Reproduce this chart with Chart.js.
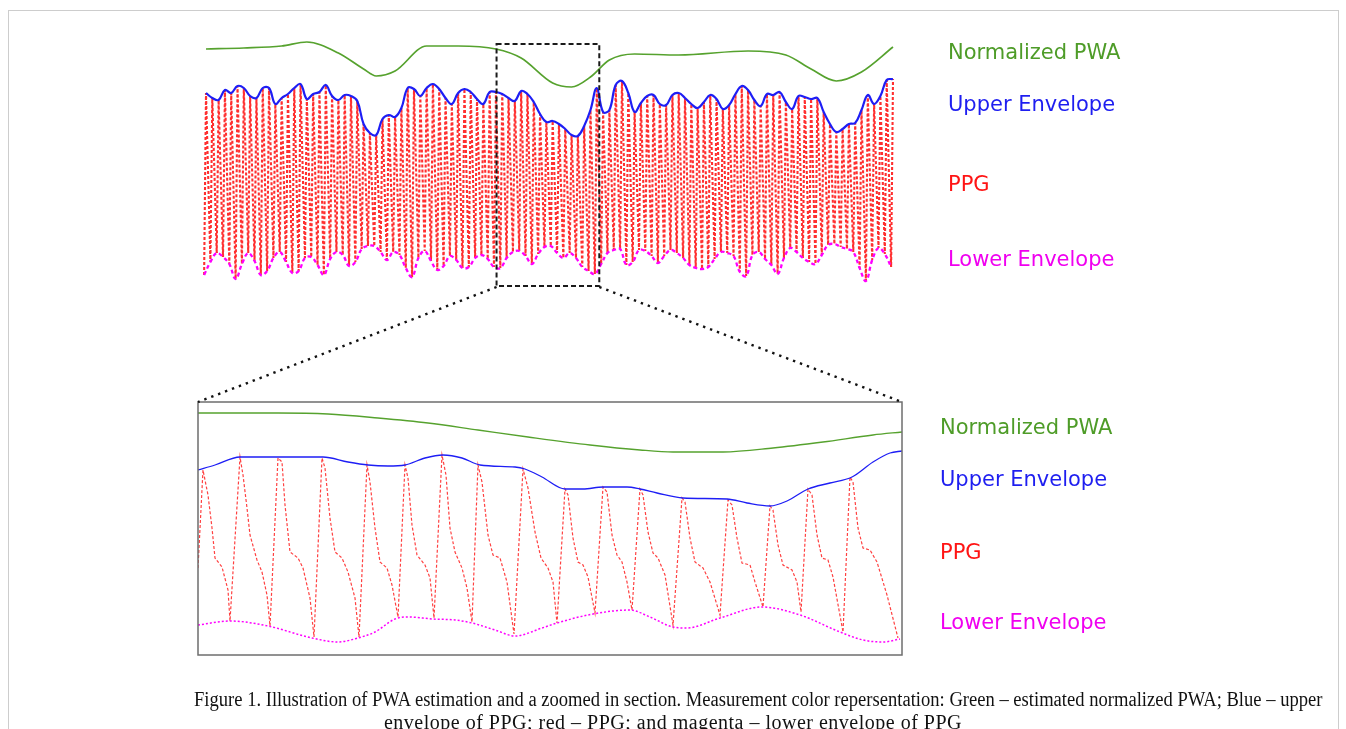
<!DOCTYPE html>
<html>
<head>
<meta charset="utf-8">
<title>PWA estimation</title>
<script src="https://cdn.jsdelivr.net/npm/chart.js@4.4.1/dist/chart.umd.min.js"></script>
<style>
  html, body { margin: 0; padding: 0; background: #fff; }
  body { width: 1346px; height: 729px; position: relative; overflow: hidden; }
  #frame { position: absolute; left: 8px; top: 10px; width: 1329px; height: 760px; border: 1px solid #cdcdcd; }
  canvas { position: absolute; }
  #topChart { left: 196px; top: 30px; }
  #zoomChart { left: 196px; top: 400px; }
  #overlay { left: 0; top: 0; pointer-events: none; }
  .lbl { position: absolute; font-family: "DejaVu Sans", Verdana, sans-serif; font-size: 21px; line-height: 24px; white-space: nowrap; }
  .pwa { color: rgb(78, 156, 40); }
  .up { color: rgb(30, 30, 240); }
  .ppg { color: rgb(255, 20, 20); }
  .low { color: rgb(240, 0, 240); }
  .cap { position: absolute; white-space: nowrap; font-family: "Liberation Serif", "Times New Roman", serif;
         font-size: 20px; line-height: 22px; color: #111; }
  #cap1 { left: 194px; top: 688px; transform: scaleX(0.929); transform-origin: 0 0; }
  #cap2 { left: 0; width: 1346px; text-align: center; top: 711px; letter-spacing: 0.5px; }
</style>
</head>
<body>
<div id="frame"></div>
<canvas id="topChart" width="707" height="270"></canvas>
<canvas id="zoomChart" width="708" height="257"></canvas>
<canvas id="overlay" width="1346" height="729"></canvas>

<div class="lbl pwa" style="left:948px; top:40px">Normalized PWA</div>
<div class="lbl up" style="left:948px; top:92px">Upper Envelope</div>
<div class="lbl ppg" style="left:948px; top:172px">PPG</div>
<div class="lbl low" style="left:948px; top:247px">Lower Envelope</div>

<div class="lbl pwa" style="left:940px; top:415px">Normalized PWA</div>
<div class="lbl up" style="left:940px; top:467px">Upper Envelope</div>
<div class="lbl ppg" style="left:940px; top:540px">PPG</div>
<div class="lbl low" style="left:940px; top:610px">Lower Envelope</div>

<div class="cap" id="cap1">Figure 1. Illustration of PWA estimation and a zoomed in section. Measurement color repersentation: Green – estimated normalized PWA; Blue – upper</div>
<div class="cap" id="cap2">envelope of PPG; red – PPG; and magenta – lower envelope of PPG</div>

<script>
// Full recording, one value per heart beat (beat index 0..109)
// systolic peaks of the PPG -> upper envelope
const beatUpper = [
  207, 202, 200, 210, 207, 214, 212, 204, 202, 212,
  212, 196, 202, 206, 212, 216, 201, 206, 208, 215,
  204, 200, 205, 204, 199, 176, 167, 165, 181, 185,
  183, 192, 212, 211, 204, 212, 216, 211, 202, 196,
  207, 211, 208, 201, 196, 208, 208, 206, 202, 199,
  209, 206, 198, 186, 178, 179, 176, 171, 165, 164,
  174, 190, 212, 188, 190, 215, 219, 207, 188, 197,
  204, 205, 196, 195, 205, 207, 202, 196, 192, 198,
  205, 201, 191, 195, 206, 214, 210, 200, 194, 206,
  205, 208, 198, 191, 204, 203, 201, 202, 188, 176,
  168, 171, 176, 177, 190, 205, 196, 204, 220, 221
];
// beat onsets (troughs) of the PPG -> lower envelope
const beatLower = [
  25, 38, 47, 43, 36, 21, 36, 47, 39, 25,
  29, 42, 48, 38, 27, 29, 42, 43, 35, 25,
  41, 48, 45, 34, 38, 51, 54, 54, 48, 40,
  48, 45, 32, 23, 42, 49, 39, 30, 34, 44,
  40, 32, 33, 42, 45, 41, 33, 32, 42, 48,
  49, 44, 36, 46, 53, 54, 47, 42, 47, 42,
  33, 29, 26, 36, 47, 50, 51, 35, 38, 50,
  49, 44, 37, 44, 50, 47, 42, 35, 32, 31,
  33, 41, 48, 47, 44, 28, 24, 45, 48, 41,
  35, 26, 42, 52, 48, 42, 38, 36, 45, 55,
  56, 53, 51, 48, 32, 19, 40, 52, 46, 33
];
// normalized PWA, sampled at a few beats
const pwaBeat  = [0, 6, 12, 16, 21, 25, 27, 30, 35, 40, 46, 50, 55, 58, 61, 64, 68, 75, 86, 92, 96, 100, 104, 109];
const pwaValue = [251, 252, 254, 258, 247, 231, 224, 229, 254, 254, 251, 242, 217, 213, 223, 240, 246, 245, 249, 245, 231, 219, 228, 253];

// section shown enlarged below (in beats)
const zoomFrom = 46.1;
const zoomTo = 62.4;

// enlarged section, [sample, value]
const zoomPwa = [
  [0, 242], [80, 242], [130, 241], [180, 237], [230, 232], [280, 225], [330, 218], [392, 210],
  [442, 205], [475, 203], [525, 203], [575, 207], [625, 213], [675, 220], [704, 223]
];
const zoomUpper = [
  [0, 185], [17, 190], [42, 198], [80, 198], [125, 198], [150, 193], [170, 190], [190, 189],
  [207, 190], [227, 197], [245, 200], [264, 197], [282, 190], [317, 188], [327, 186], [344, 178],
  [367, 166], [385, 166], [405, 168], [429, 168], [442, 166], [459, 162], [485, 157], [529, 156],
  [549, 152], [572, 149], [589, 154], [610, 166], [632, 172], [654, 178], [675, 193], [692, 202], [704, 204]
];
const zoomLower = [
  [0, 30], [32, 34], [70, 29], [114, 17], [140, 13], [160, 17], [177, 23], [197, 36], [210, 38],
  [235, 36], [257, 35], [274, 32], [297, 25], [317, 19], [344, 27], [359, 32], [395, 41], [432, 45],
  [452, 38], [475, 28], [489, 27], [522, 37], [564, 48], [602, 40], [642, 23], [665, 15], [685, 13], [702, 16]
];
const zoomPpg = [
  [0, 87], [5, 185], [10, 160], [14, 127], [17, 97], [24, 88], [30, 65], [32, 34],
  [42, 198], [45, 180], [49, 147], [52, 120], [59, 95], [64, 83], [69, 60], [72, 29],
  [80, 197], [84, 193], [87, 150], [92, 103], [100, 97], [105, 87], [112, 57], [116, 18],
  [124, 197], [127, 187], [132, 137], [137, 103], [144, 97], [150, 83], [157, 57], [161, 18],
  [169, 190], [172, 173], [177, 127], [182, 93], [189, 87], [194, 70], [200, 38],
  [207, 190], [210, 177], [214, 130], [219, 100], [227, 90], [232, 77], [236, 37],
  [244, 200], [248, 180], [252, 127], [257, 103], [264, 87], [269, 67], [274, 33],
  [280, 190], [284, 173], [290, 120], [295, 100], [302, 97], [309, 73], [316, 21],
  [325, 186], [330, 167], [337, 123], [343, 97], [350, 87], [355, 73], [359, 32],
  [367, 166], [370, 160], [375, 117], [380, 93], [385, 90], [390, 78], [397, 42],
  [405, 168], [409, 163], [414, 120], [419, 100], [424, 93], [429, 73], [434, 45],
  [442, 166], [445, 160], [450, 123], [455, 102], [460, 97], [467, 80], [475, 30],
  [484, 157], [487, 153], [492, 117], [497, 93], [505, 87], [512, 73], [522, 40],
  [530, 155], [534, 150], [539, 117], [544, 92], [552, 90], [557, 73], [565, 48],
  [572, 149], [575, 145], [580, 110], [585, 90], [594, 85], [599, 73], [603, 43],
  [610, 166], [614, 160], [619, 120], [624, 97], [630, 95], [635, 78], [645, 23],
  [652, 178], [655, 173], [660, 127], [665, 107], [672, 105], [679, 93], [689, 60], [700, 17]
];

const GREEN = 'rgb(86, 162, 46)';
const BLUE = 'rgb(30, 30, 245)';
const RED = 'rgba(255, 10, 10, 0.85)';
const MAGENTA = 'rgb(255, 0, 255)';

// trough comes a bit before the systolic peak
const upstroke = 0.3;

const pts = arr => arr.map(p => ({ x: p[0], y: p[1] }));

const ppgTop = [];
beatUpper.forEach((v, i) => {
  ppgTop.push({ x: i - upstroke, y: beatLower[i] });
  ppgTop.push({ x: i, y: v });
});

function baseOptions(xMax, yMax, pad) {
  return {
    responsive: false,
    animation: false,
    devicePixelRatio: 1,
    events: [],
    layout: { padding: pad },
    plugins: { legend: { display: false }, tooltip: { enabled: false } },
    elements: { point: { radius: 0 } },
    scales: {
      x: { type: 'linear', min: 0, max: xMax, display: false },
      y: { min: 0, max: yMax, display: false }
    }
  };
}

// dashed box marking the enlarged section
const zoomBox = {
  id: 'zoomBox',
  afterDatasetsDraw(chart) {
    const { ctx, scales: { x, y } } = chart;
    const l = x.getPixelForValue(zoomFrom), r = x.getPixelForValue(zoomTo);
    const t = y.getPixelForValue(256), b = y.getPixelForValue(14);
    ctx.save();
    ctx.strokeStyle = '#1a1a1a';
    ctx.lineWidth = 2;
    ctx.setLineDash([5, 3]);
    ctx.strokeRect(l, t, r - l, b - t);
    ctx.restore();
  }
};

// frame round the enlarged plot
const plotFrame = {
  id: 'plotFrame',
  afterDraw(chart) {
    const { ctx, chartArea: a } = chart;
    ctx.save();
    ctx.strokeStyle = '#6e6e6e';
    ctx.lineWidth = 1.5;
    ctx.strokeRect(a.left, a.top, a.right - a.left, a.bottom - a.top);
    ctx.restore();
  }
};

const topChart = new Chart(document.getElementById('topChart'), {
  type: 'line',
  data: {
    datasets: [
      { data: pwaBeat.map((b, i) => ({ x: b, y: pwaValue[i] })), borderColor: GREEN, borderWidth: 1.7,
        cubicInterpolationMode: 'monotone', clip: false },
      { data: beatUpper.map((v, i) => ({ x: i, y: v })), borderColor: BLUE, borderWidth: 2.2,
        tension: 0.4, clip: false },
      { data: beatLower.map((v, i) => ({ x: i - upstroke, y: v })), borderColor: MAGENTA, borderWidth: 2.3,
        borderDash: [4, 3], tension: 0.4, clip: false },
      { data: ppgTop, borderColor: RED, borderWidth: 2.1, borderDash: [3, 2], tension: 0, clip: false }
    ]
  },
  options: baseOptions(beatUpper.length - 1, 270, { left: 10, right: 10, top: 0, bottom: 0 }),
  plugins: [zoomBox]
});

const zoomChart = new Chart(document.getElementById('zoomChart'), {
  type: 'line',
  data: {
    datasets: [
      { data: pts(zoomPwa), borderColor: GREEN, borderWidth: 1.3, cubicInterpolationMode: 'monotone' },
      { data: pts(zoomUpper), borderColor: BLUE, borderWidth: 1.3, cubicInterpolationMode: 'monotone' },
      { data: pts(zoomLower), borderColor: MAGENTA, borderWidth: 1.5, borderDash: [2, 2],
        cubicInterpolationMode: 'monotone' },
      { data: pts(zoomPpg), borderColor: 'rgba(255, 30, 30, 0.85)', borderWidth: 1.2, borderDash: [3, 2] }
    ]
  },
  options: baseOptions(704, 253, 2),
  plugins: [plotFrame]
});

// dotted lines from the box corners to the enlarged plot
function drawConnectors() {
  const ctx = document.getElementById('overlay').getContext('2d');
  const tc = document.getElementById('topChart');
  const zc = document.getElementById('zoomChart');
  const sx = topChart.scales.x, sy = topChart.scales.y;
  const yb = tc.offsetTop + sy.getPixelForValue(14) + 1;
  const a = zoomChart.chartArea;
  const segs = [
    [tc.offsetLeft + sx.getPixelForValue(zoomFrom), yb, zc.offsetLeft + a.left, zc.offsetTop + a.top],
    [tc.offsetLeft + sx.getPixelForValue(zoomTo), yb, zc.offsetLeft + a.right, zc.offsetTop + a.top]
  ];
  ctx.strokeStyle = '#111';
  ctx.lineWidth = 2.4;
  ctx.setLineDash([2.4, 5]);
  segs.forEach(s => {
    ctx.beginPath();
    ctx.moveTo(s[0], s[1]);
    ctx.lineTo(s[2], s[3]);
    ctx.stroke();
  });
}
drawConnectors();
</script>
</body>
</html>
